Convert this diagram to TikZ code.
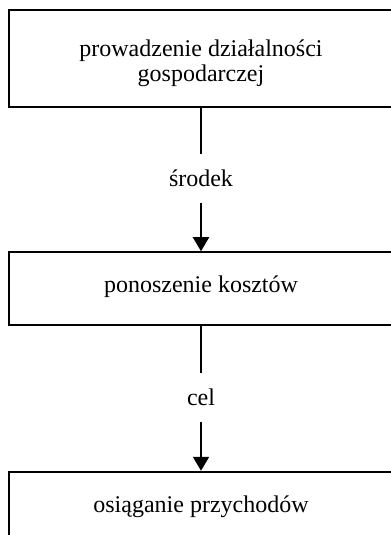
\documentclass[tikz,border=0pt]{standalone}
\usepackage{fontspec}
\setmainfont{Liberation Serif}
\usetikzlibrary{arrows.meta, positioning}
\tikzset{
    stage/.style={
        rectangle, draw=black, line width=1.5pt,
        minimum width=288pt, minimum height=54.4pt,
        inner sep=0pt, align=center,
        font=\fontsize{18pt}{18.75pt}\selectfont
    },
    oneline/.style={text height=12pt, text depth=6pt},
    link/.style={
        rectangle, inner sep=0pt, minimum height=36.5pt,
        font=\fontsize{18pt}{18.75pt}\selectfont
    },
    arrow/.style={-{Triangle[width=12pt, length=10.5pt]}, line width=1.5pt},
    plain/.style={line width=1.5pt}
}

\begin{document}
\begin{tikzpicture}
    \useasboundingbox (0,0) rectangle (293.25pt,-401.25pt);

    \node[stage, minimum height=72.75pt] (dzial) at (150.75pt,-43.9pt)
        {\rule{0pt}{20pt}prowadzenie działalności\\gospodarczej};
    \node[link, below=34.5pt of dzial] (srodek) {środek};
    \node[stage, oneline, below=36pt of srodek] (koszty) {ponoszenie kosztów};
    \node[link, below=35.6pt of koszty, minimum height=36pt] (cel) {cel};
    \node[stage, oneline, below=36.75pt of cel] (przych) {osiąganie przychodów};

    \draw[plain] (dzial) -- (srodek);
    \draw[arrow] (srodek) -- (koszty);
    \draw[plain] (koszty) -- (cel);
    \draw[arrow] (cel) -- (przych);
\end{tikzpicture}
\end{document}
